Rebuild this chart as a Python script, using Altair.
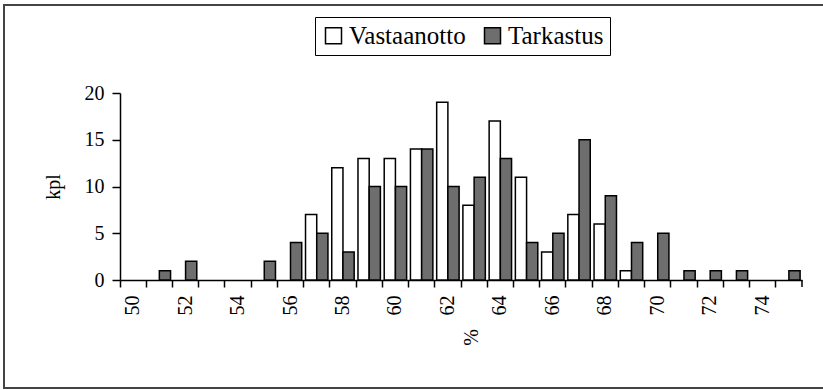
import altair as alt
import pandas as pd

categories = list(range(50, 76))
vastaanotto = [0, 0, 0, 0, 0, 0, 0, 7, 12, 13, 13, 14, 19, 8, 17, 11, 3, 7, 6, 1, 0, 0, 0, 0, 0, 0]
tarkastus = [0, 1, 2, 0, 0, 2, 4, 5, 3, 10, 10, 14, 10, 11, 13, 4, 5, 15, 9, 4, 5, 1, 1, 1, 0, 1]
series = ["Vastaanotto", "Tarkastus"]
y_ticks = [0, 5, 10, 15, 20]

rows = []
for c, v, t in zip(categories, vastaanotto, tarkastus):
    rows.append({"cat": c, "sarja": series[0], "kpl": v})
    rows.append({"cat": c, "sarja": series[1], "kpl": t})
df = pd.DataFrame(rows)

FONT = "Liberation Serif"
W, H = 682, 187

bars = alt.Chart(df).transform_filter("datum.kpl > 0").mark_bar(
    stroke="black", strokeWidth=1.5).encode(
    x=alt.X("cat:O", sort=categories,
            scale=alt.Scale(domain=categories, paddingInner=0, paddingOuter=0),
            axis=alt.Axis(title="%", titleAngle=270, titleFontSize=20, titlePadding=22,
                          labelAngle=270, labelFontSize=20, labelPadding=8,
                          labelExpr="datum.value % 2 == 0 ? datum.label : ''",
                          bandPosition=0, tickSize=7,
                          labelOverlap=False)),
    xOffset=alt.XOffset("sarja:N", sort=series,
                        scale=alt.Scale(domain=series, paddingInner=0, paddingOuter=0.17)),
    y=alt.Y("kpl:Q", scale=alt.Scale(domain=[0, 20], nice=False),
            axis=alt.Axis(title="kpl", values=y_ticks, titleFontSize=20, titlePadding=21,
                          labelFontSize=20, tickSize=8, labelPadding=8, grid=False)),
    color=alt.Color("sarja:N", sort=series,
                    scale=alt.Scale(domain=series, range=["white", "#6e6e6e"]),
                    legend=alt.Legend(title=None, orient="none", legendX=195, legendY=-76,
                                      direction="horizontal", columns=2,
                                      symbolType="square", symbolSize=256,
                                      symbolStrokeColor="black", symbolStrokeWidth=1.5,
                                      labelFontSize=25, labelFont=FONT, labelOffset=3,
                                      columnPadding=14, padding=6,
                                      strokeColor="black", fillColor="white")),
)

end_tick = alt.Chart(pd.DataFrame({"cat": [categories[-1]]})).mark_rule(
    color="black", strokeWidth=1.5).encode(
    x=alt.X("cat:O", bandPosition=1),
    y=alt.value(H), y2=alt.value(H + 7),
)

frame = alt.Chart(pd.DataFrame({"a": [0]})).mark_rect(
    fill="transparent", stroke="#444444", strokeWidth=2).encode(
    x=alt.value(-116), x2=alt.value(W + 60),
    y=alt.value(-88), y2=alt.value(H + 108),
)

chart = alt.layer(frame, bars, end_tick).properties(
    width=W, height=H,
    background="white",
    autosize=alt.AutoSizeParams(type="none"),
    padding={"left": 120, "top": 93, "right": 21, "bottom": 110},
).configure_view(strokeWidth=0).configure_axis(
    domainColor="black", domainWidth=1.5, tickColor="black", tickWidth=1.5,
    labelColor="black", titleColor="black", labelFont=FONT, titleFont=FONT,
    titleFontWeight="normal",
)

chart.save("out.html", embed_options={"renderer": "svg", "actions": False})
